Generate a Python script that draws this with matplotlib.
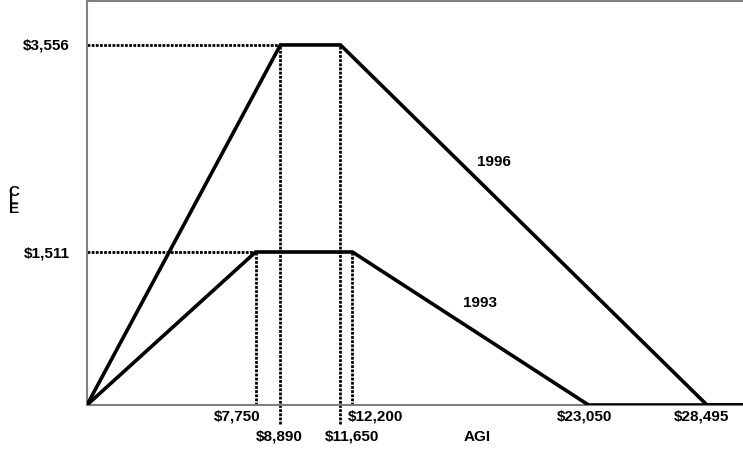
import matplotlib
matplotlib.use('Agg')
import matplotlib.pyplot as plt

plt.rcParams['font.family'] = ['Liberation Sans', 'DejaVu Sans']

# Daten
agi_1996 = [0, 8890, 11650, 28495, 30150]
cle_1996 = [0, 3556, 3556, 0, 0]
agi_1993 = [0, 7750, 12200, 23050, 30150]
cle_1993 = [0, 1511, 1511, 0, 0]
knick_x = [7750, 8890, 11650, 12200, 23050, 28495]
knick_labels = ['$7,750', '$8,890', '$11,650', '$12,200', '$23,050', '$28,495']
y_werte = [3556, 1511]
y_labels = ['$3,556', '$1,511']

fig = plt.figure(figsize=(7.43, 4.56), dpi=100)
ax = fig.add_axes([87/743, 50/456, 656/743, 404/456])
ax.set_xlim(0, 30150)
ax.set_ylim(0, 3990)

ax.plot(agi_1993, cle_1993, color='black', lw=2.6, solid_joinstyle='miter', zorder=3)
ax.plot(agi_1996, cle_1996, color='black', lw=2.6, solid_joinstyle='miter', zorder=3)

# gepunktete Hilfslinien
gray = '#808080'
punkt = dict(color='black', lw=2.0, ls=(0, (1.0, 0.5)))
ax.plot([0, 8890], [3556, 3556], **punkt)
ax.plot([0, 7750], [1511, 1511], **punkt)
ax.plot([7750, 7750], [0, 1511], **punkt)
ax.plot([12200, 12200], [0, 1511], **punkt)
ax.plot([8890, 8890], [-190, 3556], clip_on=False, **punkt)
ax.plot([11650, 11650], [-190, 3556], clip_on=False, **punkt)

for s in ['left', 'top', 'bottom']:
    ax.spines[s].set_color(gray)
    ax.spines[s].set_linewidth(1.5)
ax.spines['right'].set_visible(False)
ax.set_xticks([])
ax.set_yticks([])

fs = 11
for y, lab in zip(y_werte, y_labels):
    ax.text(-780, y, lab, ha='right', va='center', fontsize=fs, fontweight='bold')

# x-Beschriftungen (zwei Reihen)
oben = -99
unten = -306
ax.text(7950, oben, knick_labels[0], ha='right', va='center', fontsize=fs, fontweight='bold')
ax.text(8824, unten, knick_labels[1], ha='center', va='center', fontsize=fs, fontweight='bold')
ax.text(12178, unten, knick_labels[2], ha='center', va='center', fontsize=fs, fontweight='bold')
ax.text(11995, oben, knick_labels[3], ha='left', va='center', fontsize=fs, fontweight='bold')
ax.text(22886, oben, knick_labels[4], ha='center', va='center', fontsize=fs, fontweight='bold')
ax.text(28263, oben, knick_labels[5], ha='center', va='center', fontsize=fs, fontweight='bold')
ax.text(17920, unten, 'AGI', ha='center', va='center', fontsize=fs, fontweight='bold')

ax.text(18700, 2411, '1996', ha='center', va='center', fontsize=fs, fontweight='bold')
ax.text(18060, 1018, '1993', ha='center', va='center', fontsize=fs, fontweight='bold')

ax.text(-3350, 2030, 'C\nL\nE', ha='center', va='center', fontsize=11, fontweight='bold',
        linespacing=0.5)

fig.savefig('out.png', dpi=100)
